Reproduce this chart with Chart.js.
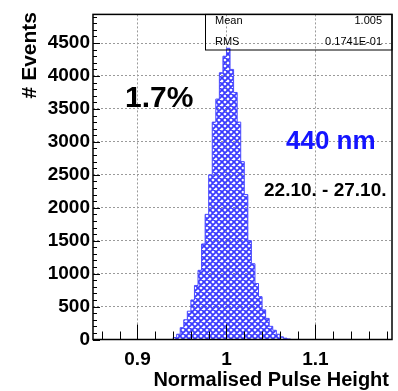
<!DOCTYPE html>
<html>
<head>
<meta charset="utf-8">
<script src="https://cdn.jsdelivr.net/npm/chart.js"></script>
<style>
  html, body { margin: 0; padding: 0; background: #fff; }
</style>
</head>
<body>
<canvas id="pulseChart" width="398" height="391"></canvas>
<script>
// histogram: bin left edges (width 0.004) and counts
const binEdges = [0.940, 0.944, 0.948, 0.952, 0.956, 0.960, 0.964, 0.968, 0.972, 0.976,
                  0.980, 0.984, 0.988, 0.992, 0.996, 1.000, 1.004, 1.008, 1.012, 1.016,
                  1.020, 1.024, 1.028, 1.032, 1.036, 1.040, 1.044, 1.048, 1.052, 1.056,
                  1.060, 1.064, 1.068, 1.072, 1.076];
const binCounts = [10, 30, 80, 180, 300, 430, 600, 820, 1050, 1450,
                   1900, 2500, 3300, 3650, 4050, 4300, 4420, 4100, 3750, 3300,
                   2700, 2200, 1500, 1150, 850, 650, 450, 320, 200, 140,
                   80, 40, 20, 8];
const xTickLabels = [0.9, 1, 1.1];
const yTickLabels = [0, 500, 1000, 1500, 2000, 2500, 3000, 3500, 4000, 4500];
const statNames = ['Mean', 'RMS'];
const statValues = ['1.005', '0.1741E-01'];

const FONT = '"Liberation Sans", Arial, Helvetica, sans-serif';

// step outline points
const histPoints = [{x: binEdges[0], y: 0}];
binEdges.forEach((e, i) => {
  histPoints.push({x: e, y: i < binCounts.length ? binCounts[i] : 0});
});

function hatchPattern() {
  const p = 6;
  const c = document.createElement('canvas');
  c.width = p; c.height = p;
  const g = c.getContext('2d');
  g.strokeStyle = '#3a3aff';
  g.lineWidth = 1.8;
  g.beginPath();
  for (let o = -p; o <= p; o += p) {
    g.moveTo(o, 0); g.lineTo(o + p, p);
    g.moveTo(o + p, 0); g.lineTo(o, p);
  }
  g.stroke();
  return g.createPattern(c, 'repeat');
}

const ctx = document.getElementById('pulseChart').getContext('2d');

const rootFrame = {
  id: 'rootFrame',
  afterDraw(chart) {
    const c = chart.ctx;
    const a = chart.chartArea;
    const xs = chart.scales.x, ys = chart.scales.y;
    c.save();
    // inner ticks
    c.strokeStyle = '#000';
    c.lineWidth = 1;
    c.beginPath();
    for (let v = 0; v <= ys.max; v += 100) {
      const y = Math.round(ys.getPixelForValue(v)) + 0.5;
      const len = (v % 500 === 0) ? 7 : 4;
      c.moveTo(a.left, y); c.lineTo(a.left + len, y);
    }
    for (let k = 43; k <= 59; k++) {
      const v = k * 0.02;
      const x = Math.round(xs.getPixelForValue(v)) + 0.5;
      const len = (k % 5 === 0) ? 15 : 8;
      c.moveTo(x, a.bottom); c.lineTo(x, a.bottom - len);
    }
    c.stroke();
    // frame
    c.lineWidth = 1.5;
    c.strokeRect(a.left, a.top, a.right - a.left, a.bottom - a.top);

    // stats box
    c.lineWidth = 1;
    c.strokeRect(205.5, a.top, a.right - 205.5, 50 - a.top);
    c.fillStyle = '#000';
    c.font = '11px ' + FONT;
    c.textBaseline = 'middle';
    statNames.forEach((n, i) => {
      const y = 21 + i * 21;
      c.textAlign = 'left';
      c.fillText(n, 215, y);
      c.textAlign = 'right';
      c.fillText(statValues[i], 382, y);
    });

    // annotations
    c.textAlign = 'left';
    c.font = 'bold 30px ' + FONT;
    c.fillText('1.7%', 125, 99);
    c.fillStyle = '#1414ff';
    c.font = 'bold 26px ' + FONT;
    c.fillText('440 nm', 286, 142);
    c.fillStyle = '#000';
    c.font = 'bold 19px ' + FONT;
    c.fillText('22.10. - 27.10.', 264, 191);

    // axis titles
    c.font = 'bold 20px ' + FONT;
    c.textAlign = 'right';
    c.fillText('Normalised Pulse Height', 389, 380);
    c.translate(30, 12);
    c.rotate(-Math.PI / 2);
    c.textAlign = 'right';
    c.font = 'bold 21px ' + FONT;
    c.fillText('# Events', 0, 0);
    c.restore();
  }
};

new Chart(ctx, {
  type: 'line',
  data: {
    datasets: [{
      data: histPoints,
      stepped: 'after',
      borderColor: '#4a4aff',
      borderWidth: 1,
      backgroundColor: hatchPattern(),
      fill: 'origin',
      pointRadius: 0
    }]
  },
  options: {
    responsive: false,
    devicePixelRatio: 1,
    animation: false,
    layout: { padding: { top: 10.7, right: 6, left: 0, bottom: 0 } },
    plugins: { legend: { display: false }, tooltip: { enabled: false } },
    scales: {
      x: {
        type: 'linear',
        min: 0.85,
        max: 1.186,
        afterBuildTicks: s => { s.ticks = xTickLabels.map(v => ({ value: v })); },
        afterFit: s => { s.height = 51.5; },
        ticks: {
          callback: v => String(v),
          color: '#000',
          font: { family: FONT, size: 19, weight: 'bold' },
          padding: 9,
          maxRotation: 0
        },
        grid: { color: '#9a9a9a', lineWidth: 1, drawTicks: false },
        border: { display: false, dash: [2, 2] }
      },
      y: {
        min: 0,
        max: 4935,
        afterBuildTicks: s => { s.ticks = yTickLabels.map(v => ({ value: v })); },
        afterFit: s => { s.width = 93; },
        ticks: {
          callback: v => String(v),
          color: '#000',
          font: { family: FONT, size: 19, weight: 'bold' },
          padding: 3
        },
        grid: { color: '#9a9a9a', lineWidth: 1, drawTicks: false },
        border: { display: false, dash: [2, 2] }
      }
    }
  },
  plugins: [rootFrame]
});
</script>
</body>
</html>
